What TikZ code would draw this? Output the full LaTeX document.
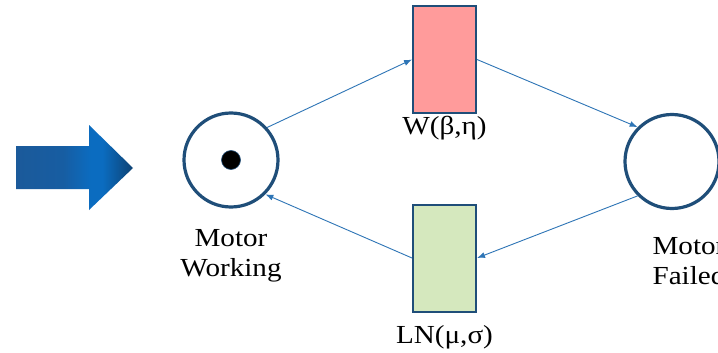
\documentclass[tikz,border=0pt]{standalone}
\usepackage{fontspec}
\setmainfont[FakeStretch=1.12]{Liberation Serif}
\usetikzlibrary{arrows.meta}
\definecolor{placec}{HTML}{1F4E79}
\definecolor{connc}{HTML}{2E75B6}
\definecolor{redfill}{HTML}{FF9B9B}
\definecolor{greenfill}{HTML}{D5E8BE}
\definecolor{ba1}{HTML}{1B5A9A}
\definecolor{ba2}{HTML}{175DA2}
\definecolor{ba3}{HTML}{0B6CC0}
\definecolor{ba4}{HTML}{0E4273}
\pgfdeclarehorizontalshading{blockarrowshade}{100bp}{color(0bp)=(ba1); color(25bp)=(ba1); color(45bp)=(ba2); color(57bp)=(ba3); color(62bp)=(ba3); color(75bp)=(ba4); color(100bp)=(ba4)}
\begin{document}
\begin{tikzpicture}[x=1pt,y=-1pt,
  place/.style={circle,draw=placec,line width=3.2pt,minimum size=94pt,inner sep=0pt,fill=white},
  trans/.style={rectangle,draw=placec,line width=2pt,minimum width=63pt,minimum height=107pt,inner sep=0pt},
  token/.style={circle,fill=black,draw=placec,line width=0.6pt,minimum size=19pt,inner sep=0pt},
  conn/.style={draw=connc,line width=0.9pt,-{Latex[length=8pt,width=6pt]}},
  lbl/.style={inner sep=0pt,font=\fontsize{26}{30}\selectfont,text=black}]
\useasboundingbox (0,0) rectangle (718,353);
\fill[white] (0,0) rectangle (718,353);
% block arrow
\path[shading=blockarrowshade] (16,146) -- (89,146) -- (89,125) -- (133,168) -- (89,210) -- (89,189) -- (16,189) -- cycle;
% places
\node[place] (L) at (231,160) {};
\node[token] (tk) at (231,160) {};
\node[place] (R) at (672,161.5) {};
% transitions
\node[trans,fill=redfill] (W) at (444.5,59.5) {};
\node[trans,fill=greenfill] (N) at (444.5,258) {};
% connectors
\draw[conn] (L.42) -- (W.west);
\draw[conn] (W.east) -- (R.135);
\draw[conn] (R.225) -- (N.east);
\draw[conn] (N.west) -- (L.-45);
% labels
\node[lbl,anchor=base] (wl) at (444.5,135) {W(β,η)};
\node[lbl,anchor=base] (nl) at (444.5,343) {LN(μ,σ)};
\node[lbl,align=center] (lt) at (231,256) {Motor\\Working};
\node[lbl,align=center] (rt) at (689,261) {Motor\\Failed};
\end{tikzpicture}
\end{document}
